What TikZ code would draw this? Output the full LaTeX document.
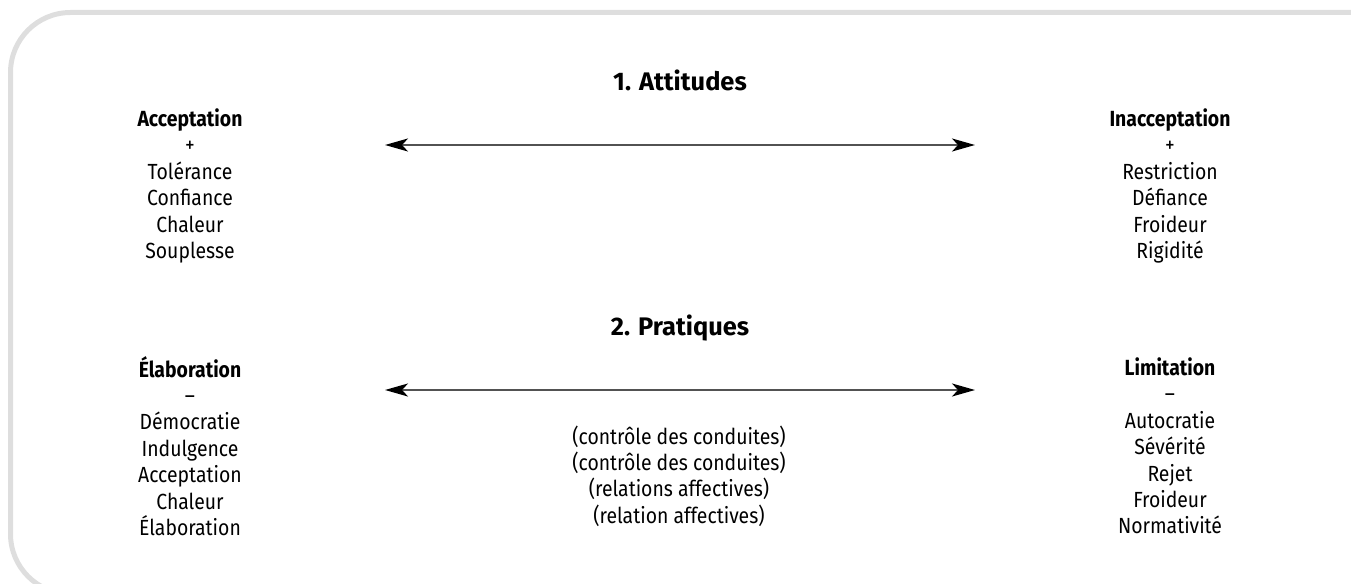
\documentclass[tikz,border=0pt]{standalone}
\usepackage{fontspec}
\setmainfont{Fira Sans}
\newfontfamily\colfont{Fira Sans}[FakeStretch=0.885]
\usetikzlibrary{arrows.meta}
\tikzset{
  col/.style={align=center, inner sep=0pt, font=\colfont\fontsize{22}{26.5}\selectfont},
  ttl/.style={inner sep=0pt, font=\fontsize{25.5}{30}\selectfont\bfseries},
  dbl/.style={draw=black!68, line width=1.6bp,
    {Stealth[length=23bp,width=13bp,inset=6bp,color=black]}-{Stealth[length=23bp,width=13bp,inset=6bp,color=black]}},
  frame/.style={draw=black!13, line width=5bp, rounded corners=60bp}
}
\begin{document}
\begin{tikzpicture}[x=1bp,y=-1bp]
\useasboundingbox (0,0) rectangle (1351,584);
\clip (0,0) rectangle (1351,584);
\draw[frame] (10.5,12.5) rectangle (1420,594);

\node[ttl] (t1) at (680,80) {1. Attitudes};
\node[ttl] (t2) at (680,328) {2. Pratiques};

\node[col] (acc) at (190,186) {\textbf{Acceptation}\\+\\Tolérance\\Confiance\\Chaleur\\Souplesse};
\node[col] (inacc) at (1170,186) {\textbf{Inacceptation}\\+\\Restriction\\Défiance\\Froideur\\Rigidité};

\node[col] (elab) at (190,446) {\textbf{Élaboration}\\–\\Démocratie\\Indulgence\\Acceptation\\Chaleur\\Élaboration};
\node[col] (lim) at (1170,446) {\textbf{Limitation}\\–\\Autocratie\\Sévérité\\Rejet\\Froideur\\Normativité};

\node[col] (mid) at (679,476) {(contrôle des conduites)\\(contrôle des conduites)\\(relations affectives)\\(relation affectives)};

\coordinate (a1l) at (385,145);
\coordinate (a1r) at (975,145);
\coordinate (a2l) at (385,390);
\coordinate (a2r) at (975,390);
\draw[dbl] (a1l) -- (a1r);
\draw[dbl] (a2l) -- (a2r);
\end{tikzpicture}
\end{document}
